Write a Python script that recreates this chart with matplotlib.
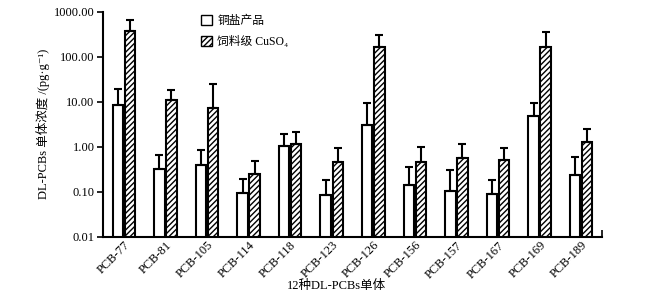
import matplotlib
matplotlib.use("Agg")
import matplotlib.pyplot as plt
import numpy as np
from matplotlib.patches import Patch
from matplotlib.ticker import FixedLocator

plt.rcParams['font.family'] = ['Liberation Serif', 'Noto Sans CJK SC', 'DejaVu Sans']
plt.rcParams['hatch.linewidth'] = 1.0
plt.rcParams['axes.unicode_minus'] = False

categories = ['PCB-77', 'PCB-81', 'PCB-105', 'PCB-114', 'PCB-118', 'PCB-123',
              'PCB-126', 'PCB-156', 'PCB-157', 'PCB-167', 'PCB-169', 'PCB-189']
copper_salt = [8.5, 0.32, 0.39, 0.094, 1.03, 0.086, 2.97, 0.14, 0.104, 0.089, 4.95, 0.229]
copper_salt_err_top = [19.5, 0.67, 0.85, 0.195, 1.94, 0.18, 9.2, 0.355, 0.31, 0.18, 9.3, 0.60]
feed_cuso4 = [370, 11.0, 7.4, 0.25, 1.12, 0.46, 167, 0.45, 0.57, 0.50, 167, 1.26]
feed_cuso4_err_top = [660, 18.5, 25, 0.49, 2.1, 0.94, 300, 0.96, 1.12, 0.93, 355, 2.54]

ytick_vals = [0.01, 0.1, 1, 10, 100, 1000]
ytick_labels = ['0.01', '0.10', '1.00', '10.00', '100.00', '1000.00']
legend_labels = ['铜盐产品', '饲料级 CuSO₄']

fig = plt.figure(figsize=(6.59, 2.99), dpi=100)
ax = fig.add_axes([103/659, 1-236.5/299, (602-103)/659, (236.5-12)/299])

x = np.arange(len(categories))
w = 0.25
off = 0.145
a = np.array(copper_salt); b = np.array(feed_cuso4)
ea = np.array(copper_salt_err_top) - a
eb = np.array(feed_cuso4_err_top) - b

ax.bar(x - off, a, width=w, color='white', edgecolor='black', linewidth=1.5,
       yerr=[np.zeros_like(ea), ea], error_kw=dict(ecolor='black', elinewidth=1.5, capsize=3, capthick=1.5),
       zorder=2)
ax.bar(x + off, b, width=w, color='white', edgecolor='black', linewidth=1.5, hatch='//////',
       yerr=[np.zeros_like(eb), eb], error_kw=dict(ecolor='black', elinewidth=1.5, capsize=3, capthick=1.5),
       zorder=2)

ax.set_yscale('log')
ax.set_ylim(0.01, 1000)
ax.set_xlim(-0.5, len(categories) - 0.5)
ax.set_yticks(ytick_vals)
ax.set_yticklabels(ytick_labels)
ax.yaxis.set_minor_locator(FixedLocator([]))
ax.tick_params(axis='y', which='major', direction='out', length=4, width=1.2, labelsize=9, pad=2)

ax.set_xticks(x)
ax.set_xticklabels(categories, rotation=45, ha='right', rotation_mode='anchor', fontsize=9)
ax.tick_params(axis='x', which='major', length=0, pad=2)
ax.xaxis.set_minor_locator(FixedLocator([len(categories) - 0.5]))
ax.tick_params(axis='x', which='minor', direction='in', length=5, width=1.2)

for s in ['top', 'right']:
    ax.spines[s].set_visible(False)
for s in ['left', 'bottom']:
    ax.spines[s].set_linewidth(1.5)

ax.set_ylabel('DL-PCBs 单体浓度 /(pg·g⁻¹)', fontsize=9, labelpad=3)
ax.set_xlabel('12种DL-PCBs单体', fontsize=9)
ax.xaxis.set_label_coords(0.468, -0.195)

handles = [Patch(facecolor='white', edgecolor='black', linewidth=1.0),
           Patch(facecolor='white', edgecolor='black', linewidth=1.0, hatch='//////')]
ax.legend(handles, legend_labels, loc='upper left', bbox_to_anchor=(0.175, 1.035),
          frameon=False, fontsize=8.5, handlelength=0.95, handleheight=0.95,
          handletextpad=0.45, labelspacing=0.75)

fig.savefig('out.png', dpi=100)
